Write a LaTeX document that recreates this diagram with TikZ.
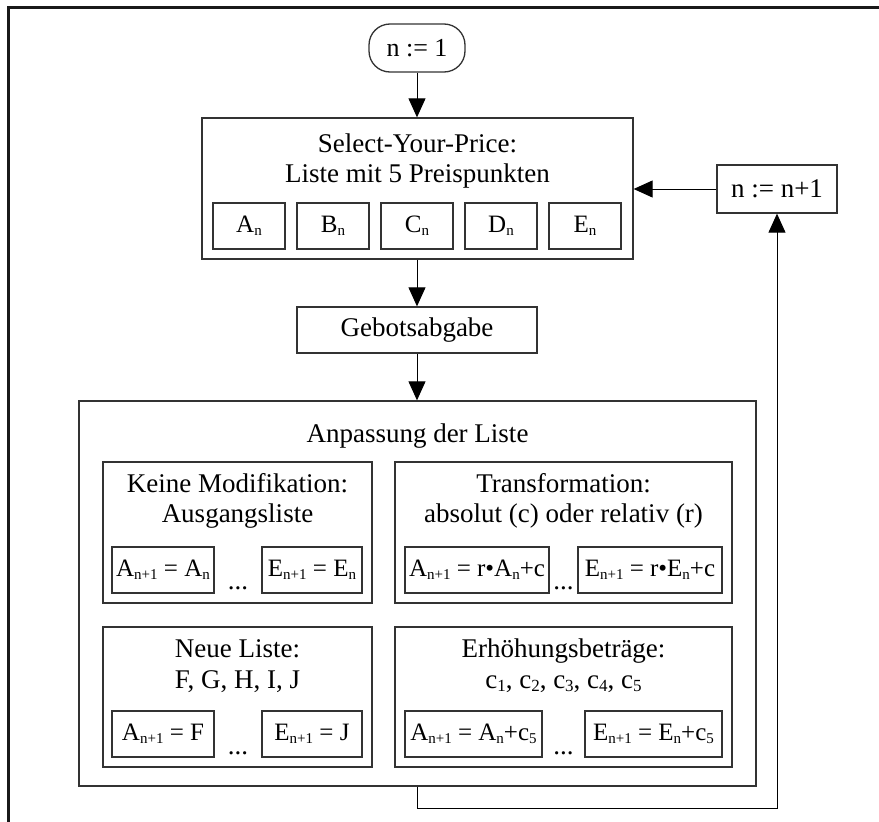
\documentclass[tikz,border=0pt]{standalone}
\usepackage{fontspec}
\setmainfont{Liberation Serif}
\usetikzlibrary{arrows.meta}
\newcommand\sbT[1]{\raisebox{-3pt}{\fontsize{17}{17}\selectfont #1}}
\newcommand\sbF[1]{\raisebox{-3pt}{\fontsize{15}{15}\selectfont #1}}
\tikzset{
  ttl/.style={font=\fontsize{27}{30}\selectfont, inner sep=0pt, anchor=base},
  box/.style={draw=black!80, line width=1.3pt, inner sep=0pt, font=\fontsize{27}{30}\selectfont},
  fbox/.style={box, font=\fontsize{25}{30}\selectfont, minimum height=46pt},
  startbox/.style={box, rounded corners=21pt, font=\fontsize{26}{30}\selectfont},
  dts/.style={font=\fontsize{27}{30}\selectfont, inner sep=0pt, anchor=base},
  arr/.style={draw=black, line width=1pt, -{Triangle[length=19pt,width=17pt]}},
  frameline/.style={line width=3pt, draw=black!90}
}
\begin{document}
\begin{tikzpicture}[x=1pt,y=-1pt]
\useasboundingbox (0,0) rectangle (879,822);
\draw[frameline] (8,822) -- (8,7) -- (879,7);

% start
\node[startbox, minimum width=96pt, minimum height=48pt] (n1) at (417,48) {n := 1};

% select box
\node[box, minimum width=431pt, minimum height=141pt] (sel) at (417.5,188.5) {};
\node[ttl] (selA) at (417.5,152) {Select-Your-Price:};
\node[ttl] (selB) at (417.5,182) {Liste mit 5 Preispunkten};
\node[fbox, minimum width=72pt] (pA) at (249,226) {A\sbF{n}};
\node[fbox, minimum width=72pt] (pB) at (333,226) {B\sbF{n}};
\node[fbox, minimum width=72pt] (pC) at (417,226) {C\sbF{n}};
\node[fbox, minimum width=72pt] (pD) at (501,226) {D\sbF{n}};
\node[fbox, minimum width=72pt] (pE) at (585,226) {E\sbF{n}};

% n := n+1
\node[box, minimum width=120pt, minimum height=48pt] (nn) at (777,189) {n := n+1};

% Gebotsabgabe
\node[box, minimum width=240pt, minimum height=46pt] (geb) at (417,330) {Gebotsabgabe};

% big box
\node[box, minimum width=677pt, minimum height=385pt] (big) at (417.5,593.5) {};
\node[ttl] (bigT) at (417.5,442) {Anpassung der Liste};

% sub 1
\node[box, minimum width=269pt, minimum height=141pt] (s1) at (237.5,532.5) {};
\node[ttl] (s1a) at (237.5,492) {Keine Modifikation:};
\node[ttl] (s1b) at (237.5,522) {Ausgangsliste};
\node[fbox, minimum width=102pt] (s1l) at (163,570) {A\sbF{n+1} = A\sbF{n}};
\node[fbox, minimum width=100pt] (s1r) at (312,570) {E\sbF{n+1} = E\sbF{n}};
\node[dts] (s1d) at (238,589) {...};

% sub 2
\node[box, minimum width=337pt, minimum height=141pt] (s2) at (563.5,532.5) {};
\node[ttl] (s2a) at (563.5,492) {Transformation:};
\node[ttl] (s2b) at (563.5,522) {absolut (c) oder relativ (r)};
\node[fbox, minimum width=144pt] (s2l) at (477,570) {A\sbF{n+1} = r•A\sbF{n}+c};
\node[fbox, minimum width=144pt] (s2r) at (650,570) {E\sbF{n+1} = r•E\sbF{n}+c};
\node[dts] (s2d) at (563.5,589) {...};

% sub 3
\node[box, minimum width=269pt, minimum height=140pt] (s3) at (237.5,697) {};
\node[ttl] (s3a) at (237.5,657) {Neue Liste:};
\node[ttl] (s3b) at (237.5,688) {F, G, H, I, J};
\node[fbox, minimum width=102pt] (s3l) at (163,734) {A\sbF{n+1} = F};
\node[fbox, minimum width=100pt] (s3r) at (312,734) {E\sbF{n+1} = J};
\node[dts] (s3d) at (238,754) {...};

% sub 4
\node[box, minimum width=337pt, minimum height=140pt] (s4) at (563.5,697) {};
\node[ttl] (s4a) at (563.5,657) {Erhöhungsbeträge:};
\node[ttl] (s4b) at (563.5,688) {c\sbT{1}, c\sbT{2}, c\sbT{3}, c\sbT{4}, c\sbT{5}};
\node[fbox, minimum width=137pt] (s4l) at (473.5,734) {A\sbF{n+1} = A\sbF{n}+c\sbF{5}};
\node[fbox, minimum width=137pt] (s4r) at (653.5,734) {E\sbF{n+1} = E\sbF{n}+c\sbF{5}};
\node[dts] (s4d) at (563.5,754) {...};

% connectors
\draw[arr] (n1.south) -- (n1.south |- sel.north);
\draw[arr] (geb.north |- sel.south) -- (geb.north);
\draw[arr] (geb.south) -- (geb.south |- big.north);
\draw[arr] (nn.west) -- (nn.west -| sel.east);
\coordinate (ret) at (417,808);
\draw[arr] (ret |- big.south) -- (ret) -| (nn.south);
\end{tikzpicture}
\end{document}
